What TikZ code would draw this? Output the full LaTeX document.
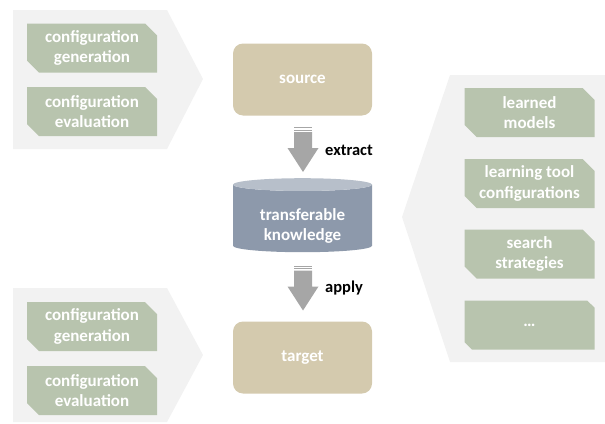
\documentclass[tikz,border=0pt]{standalone}
\usepackage{fontspec}
\setmainfont{Carlito}
\usetikzlibrary{shapes.misc,shapes.geometric}
\definecolor{panelgray}{HTML}{F2F2F2}
\definecolor{sage}{HTML}{B8C4AE}
\definecolor{sand}{HTML}{D4CAAE}
\definecolor{kbbody}{HTML}{8D99AB}
\definecolor{kbtop}{HTML}{B7BFCA}
\definecolor{arrowgray}{HTML}{A6A6A6}

% striped block arrow pointing down, top at (#1,#2)
\newcommand{\stripedarrow}[2]{%
  \fill[arrowgray] (#1-9,#2) rectangle +(18,1.3);
  \fill[arrowgray] (#1-9,#2+2.6) rectangle +(18,1.3);
  \fill[arrowgray] (#1-9,#2+5) -- (#1+9,#2+5) -- (#1+9,#2+21) -- (#1+15.5,#2+21)
    -- (#1,#2+45) -- (#1-15.5,#2+21) -- (#1-9,#2+21) -- cycle;}

\begin{document}
\begin{tikzpicture}[x=1pt,y=-1pt,every text node part/.style={align=center},
  boxtext/.style={font=\bfseries\fontsize{17}{20.5}\selectfont},
  item/.style={boxtext,chamfered rectangle,chamfered rectangle corners={north east,south west},
    chamfered rectangle xsep=6pt,chamfered rectangle ysep=6pt,fill=sage,text=white,
    minimum width=130pt,minimum height=49pt,inner sep=0pt},
  stage/.style={boxtext,rounded corners=10pt,fill=sand,text=white,
    minimum width=139pt,minimum height=72pt,inner sep=0pt},
  verb/.style={font=\bfseries\fontsize{16.5}{19}\selectfont,anchor=west,inner sep=0pt}]

\useasboundingbox (0,0) rectangle (605,423);

%%%%%%%%%%%%%%%%%%%%%%%%%%%%%%%%%%%%%%

\fill[panelgray] (13,10) -- (167,10) -- (203,79) -- (167,149) -- (13,149) -- cycle;
\fill[panelgray] (13,288) -- (167,288) -- (203,355) -- (167,422) -- (13,422) -- cycle;
\fill[panelgray] (605,75) -- (450,75) -- (402,217) -- (450,362) -- (605,362) -- cycle;

%%%%%%%%%%%%%%%%%%%%%%%%%%%%%%%%%%%%%%

\node[item] (srcgen) at (92,48) {configuration\\generation};
\node[item] (srceval) at (92,111.5) {configuration\\evaluation};
\node[item] (tgtgen) at (92,326.5) {configuration\\generation};
\node[item] (tgteval) at (92,390.5) {configuration\\evaluation};

\node[item] (models) at (529.5,112.5) {learned\\models};
\node[item] (toolconf) at (529.5,183.5) {learning tool\\configurations};
\node[item] (search) at (529.5,254) {search\\strategies};
\node[item] (more) at (529.5,325) {\dots};

%%%%%%%%%%%%%%%%%%%%%%%%%%%%%%%%%%%%%%

\node[stage] (source) at (302.5,79.5) {source};
\node[stage] (target) at (302.5,357.5) {target};
\node[boxtext,cylinder,shape border rotate=90,aspect=0.15,minimum width=139pt,minimum height=74pt,
  inner sep=0pt,cylinder uses custom fill,cylinder body fill=kbbody,cylinder end fill=kbtop,
  text=white] (knowledge) at (302.5,218.5) {\rule{0pt}{0pt}\\[6pt]transferable\\knowledge};

\stripedarrow{303}{127}
\node[verb] (extract) at (325,150) {extract};
\stripedarrow{303}{265.5}
\node[verb] (apply) at (325,288) {apply};

\end{tikzpicture}
\end{document}
